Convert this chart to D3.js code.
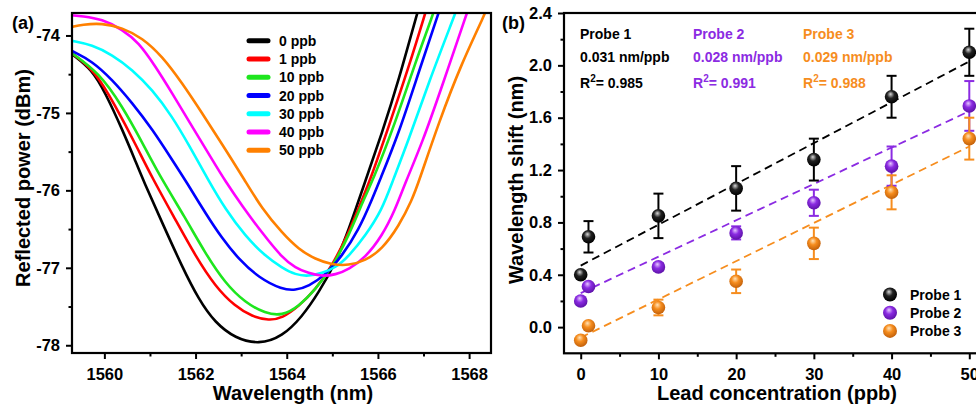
<!DOCTYPE html>
<html>
  <head>
    <meta charset="utf-8">
    <title>Reflection spectra and wavelength shift</title>
    <script src="https://d3js.org/d3.v7.min.js"></script>
    <style>
      body { margin: 0; background: #fff; }
      svg { font-family: "Liberation Sans", Arial, sans-serif; font-weight: bold; }
      .axis path, .axis line { stroke: #000; }
      .axis text { font-size: 16.5px; font-weight: bold; fill: #000; }
    </style>
  </head>
  <body>
    <svg id="svg" width="976" height="407"></svg>
    <script>
      // ---- panel (a) data: reflection spectra [wavelength nm, power dBm]
      var specLabels = ["0 ppb", "1 ppb", "10 ppb", "20 ppb", "30 ppb", "40 ppb", "50 ppb"];
      var specColors = ["#000000", "#ff0000", "#1ee61e", "#0000ff", "#00ffff", "#ff00ff", "#ff8000"];
      var spec0 = [[1559.29,-74.24],[1559.73,-74.44],[1560.02,-74.74],[1560.39,-75.21],[1560.68,-75.62],[1560.86,-75.88],[1561.27,-76.42],[1561.70,-76.98],[1562.07,-77.41],[1562.43,-77.71],[1562.87,-77.91],[1563.39,-77.99],[1563.90,-77.89],[1564.34,-77.63],[1564.70,-77.32],[1565.07,-76.94],[1565.36,-76.51],[1565.71,-75.90],[1566.09,-75.26],[1566.46,-74.57],[1566.86,-73.71],[1566.95,-73.55]];
      var spec1 = [[1559.29,-74.23],[1559.80,-74.46],[1560.24,-74.91],[1560.68,-75.40],[1561.05,-75.84],[1561.56,-76.38],[1562.00,-76.85],[1562.43,-77.24],[1562.87,-77.50],[1563.24,-77.63],[1563.61,-77.68],[1563.90,-77.65],[1564.26,-77.50],[1564.63,-77.28],[1564.99,-76.98],[1565.36,-76.55],[1565.65,-76.12],[1565.81,-75.90],[1566.24,-75.17],[1566.68,-74.40],[1567.04,-73.71],[1567.12,-73.55]];
      var spec10 = [[1559.29,-74.23],[1559.88,-74.48],[1560.39,-74.91],[1560.83,-75.38],[1561.19,-75.79],[1561.78,-76.36],[1562.21,-76.81],[1562.65,-77.20],[1563.09,-77.45],[1563.53,-77.59],[1563.90,-77.62],[1564.26,-77.50],[1564.63,-77.28],[1564.99,-77.00],[1565.36,-76.59],[1565.72,-76.07],[1565.87,-75.90],[1566.38,-75.13],[1566.82,-74.35],[1567.22,-73.71],[1567.30,-73.55]];
      var spec20 = [[1559.29,-74.20],[1559.73,-74.33],[1560.17,-74.57],[1560.61,-74.87],[1561.05,-75.21],[1561.48,-75.60],[1561.81,-75.90],[1562.21,-76.29],[1562.58,-76.62],[1562.95,-76.89],[1563.39,-77.13],[1563.90,-77.28],[1564.19,-77.29],[1564.48,-77.24],[1564.85,-77.09],[1565.21,-76.85],[1565.58,-76.51],[1565.87,-76.12],[1566.02,-75.90],[1566.46,-75.26],[1566.89,-74.48],[1567.33,-73.71],[1567.42,-73.55]];
      var spec30 = [[1559.29,-74.07],[1559.73,-74.12],[1560.17,-74.25],[1560.61,-74.44],[1561.05,-74.70],[1561.48,-75.04],[1561.85,-75.41],[1562.29,-75.88],[1562.65,-76.24],[1563.09,-76.59],[1563.53,-76.85],[1563.90,-77.00],[1564.19,-77.09],[1564.48,-77.11],[1564.77,-77.07],[1565.07,-77.00],[1565.36,-76.85],[1565.72,-76.59],[1566.09,-76.25],[1566.31,-75.90],[1566.68,-75.34],[1567.11,-74.61],[1567.70,-73.71],[1567.80,-73.55]];
      var spec40 = [[1559.29,-73.74],[1559.51,-73.75],[1559.95,-73.79],[1560.39,-73.92],[1560.75,-74.09],[1561.12,-74.40],[1561.48,-74.74],[1561.92,-75.17],[1562.36,-75.60],[1562.65,-75.88],[1563.02,-76.20],[1563.46,-76.55],[1563.90,-76.87],[1564.19,-77.00],[1564.48,-77.07],[1564.77,-77.11],[1565.07,-77.09],[1565.36,-77.02],[1565.72,-76.87],[1566.09,-76.59],[1566.38,-76.25],[1566.60,-75.90],[1566.97,-75.39],[1567.41,-74.65],[1567.95,-73.71],[1568.05,-73.55]];
      var spec50 = [[1559.29,-73.89],[1559.51,-73.86],[1559.95,-73.84],[1560.39,-73.90],[1560.83,-74.03],[1561.27,-74.27],[1561.70,-74.61],[1562.14,-75.00],[1562.58,-75.40],[1563.09,-75.88],[1563.46,-76.24],[1563.90,-76.55],[1564.26,-76.76],[1564.63,-76.89],[1564.99,-76.96],[1565.36,-76.97],[1565.72,-76.91],[1566.09,-76.76],[1566.46,-76.46],[1566.75,-76.12],[1566.89,-75.90],[1567.33,-75.13],[1567.84,-74.35],[1568.36,-73.71],[1568.45,-73.55]];
      var spectra = [spec0, spec1, spec10, spec20, spec30, spec40, spec50];
      var wlTicks = [1560, 1562, 1564, 1566, 1568];
      var wlMinor = [1561, 1563, 1565, 1567];
      var powTicks = [-78, -77, -76, -75, -74];
      var powMinor = [-77.5, -76.5, -75.5, -74.5];

      // ---- panel (b) data: wavelength shift vs lead concentration
      var conc = [0, 1, 10, 20, 30, 40, 50];
      var probe1 = [0.40, 0.69, 0.85, 1.06, 1.28, 1.76, 2.10];
      var probe1Err = [0.01, 0.12, 0.17, 0.17, 0.16, 0.16, 0.18];
      var probe2 = [0.20, 0.31, 0.46, 0.72, 0.95, 1.23, 1.69];
      var probe2Err = [0.01, 0.02, 0.03, 0.05, 0.10, 0.15, 0.19];
      var probe3 = [-0.10, 0.01, 0.15, 0.35, 0.64, 1.03, 1.44];
      var probe3Err = [0.01, 0.02, 0.06, 0.09, 0.12, 0.13, 0.16];
      var fit1 = [[0, 0.47], [50, 2.03]];
      var fit2 = [[0, 0.26], [50, 1.65]];
      var fit3 = [[0, -0.08], [50, 1.38]];
      var probeNames = ["Probe 1", "Probe 2", "Probe 3"];
      var probeColors = ["#000000", "#8b2be2", "#f68d1e"];
      var probeSens = ["0.031 nm/ppb", "0.028 nm/ppb", "0.029 nm/ppb"];
      var probeR2 = ["= 0.985", "= 0.991", "= 0.988"];
      var concTicks = [0, 10, 20, 30, 40, 50];
      var concMinor = [5, 15, 25, 35, 45];
      var shiftTicks = [0.0, 0.4, 0.8, 1.2, 1.6, 2.0, 2.4];
      var shiftMinor = [0.2, 0.6, 1.0, 1.4, 1.8, 2.2];

      var svg = d3.select("#svg");
      var defs = svg.append("defs");
      var plainInt = function(d) { return String(d); };

      // ================= panel (a)
      var ax = { left: 72, right: 491, top: 13, bottom: 353 };
      var xA = d3.scaleLinear().domain([1559.29, 1568.48]).range([ax.left, ax.right]);
      var yA = d3.scaleLinear().domain([-78.1, -73.71]).range([ax.bottom, ax.top]);

      defs.append("clipPath").attr("id", "clipA")
        .append("rect").attr("x", ax.left).attr("y", ax.top)
        .attr("width", ax.right - ax.left).attr("height", ax.bottom - ax.top);

      var lineA = d3.line()
        .x(function(d) { return xA(d[0]); })
        .y(function(d) { return yA(d[1]); })
        .curve(d3.curveBasis);

      var gA = svg.append("g");
      gA.append("g").attr("clip-path", "url(#clipA)")
        .selectAll("path")
          .data(spectra)
        .enter().append("path")
          .attr("d", lineA)
          .attr("fill", "none")
          .attr("stroke", function(d, i) { return specColors[i]; })
          .attr("stroke-width", 2.6);

      drawAxes(gA, xA, yA, ax, wlTicks, wlMinor, powTicks, powMinor, plainInt, plainInt);

      // legend (a)
      var legA = gA.append("g").selectAll("g")
          .data(specLabels)
        .enter().append("g")
          .attr("transform", function(d, i) { return "translate(0," + (40.7 + i * 18.27) + ")"; });
      legA.append("line")
        .attr("x1", 249).attr("x2", 268)
        .attr("stroke", function(d, i) { return specColors[i]; })
        .attr("stroke-width", 5).attr("stroke-linecap", "round");
      legA.append("text")
        .attr("x", 279).attr("y", 5)
        .style("font-size", "14px")
        .text(function(d) { return d; });

      gA.append("text").attr("x", 293).attr("y", 400)
        .attr("text-anchor", "middle").style("font-size", "20px")
        .text("Wavelength (nm)");
      gA.append("text").attr("transform", "translate(30,178) rotate(-90)")
        .attr("text-anchor", "middle").style("font-size", "20px")
        .text("Reflected power (dBm)");
      gA.append("text").attr("x", 12).attr("y", 29).style("font-size", "18px").text("(a)");

      // ================= panel (b)
      var bx = { left: 564, right: 986, top: 13, bottom: 353.3 };
      var xB = d3.scaleLinear().domain([-2.15, 52.15]).range([bx.left, bx.right]);
      var yB = d3.scaleLinear().domain([-0.2, 2.4]).range([bx.bottom, bx.top]);
      var gB = svg.append("g");

      // sphere gradients
      var shades = [["#d8d8d8", "#222", "#000"], ["#e6c8ff", "#8b2be2", "#5d12a8"], ["#ffe2b8", "#f68d1e", "#c2600a"]];
      shades.forEach(function(s, i) {
        var g = defs.append("radialGradient").attr("id", "ball" + i)
          .attr("cx", "45%").attr("cy", "40%").attr("r", "60%").attr("fx", "42%").attr("fy", "30%");
        g.append("stop").attr("offset", "0%").attr("stop-color", s[0]);
        g.append("stop").attr("offset", "45%").attr("stop-color", s[1]);
        g.append("stop").attr("offset", "100%").attr("stop-color", s[2]);
      });

      var lineB = d3.line()
        .x(function(d) { return xB(d[0]); })
        .y(function(d) { return yB(d[1]); });
      var fits = [fit1, fit2, fit3];
      var probes = [probe1, probe2, probe3];
      var errs = [probe1Err, probe2Err, probe3Err];

      gB.selectAll(".fit")
          .data(fits)
        .enter().append("path")
          .attr("d", lineB)
          .attr("fill", "none")
          .attr("stroke", function(d, i) { return probeColors[i]; })
          .attr("stroke-width", 1.8)
          .attr("stroke-dasharray", "8,5");

      probes.forEach(function(vals, p) {
        var g = gB.append("g");
        var pts = conc.map(function(c, i) { return { x: c, y: vals[i], e: errs[p][i] }; });
        var eb = g.selectAll(".eb").data(pts).enter().append("g")
          .attr("stroke", probeColors[p]).attr("stroke-width", 2);
        eb.append("line")
          .attr("x1", function(d) { return xB(d.x); }).attr("x2", function(d) { return xB(d.x); })
          .attr("y1", function(d) { return yB(d.y - d.e); }).attr("y2", function(d) { return yB(d.y + d.e); });
        eb.append("line")
          .attr("x1", function(d) { return xB(d.x) - 5; }).attr("x2", function(d) { return xB(d.x) + 5; })
          .attr("y1", function(d) { return yB(d.y + d.e); }).attr("y2", function(d) { return yB(d.y + d.e); });
        eb.append("line")
          .attr("x1", function(d) { return xB(d.x) - 5; }).attr("x2", function(d) { return xB(d.x) + 5; })
          .attr("y1", function(d) { return yB(d.y - d.e); }).attr("y2", function(d) { return yB(d.y - d.e); });
        g.selectAll("circle").data(pts).enter().append("circle")
          .attr("cx", function(d) { return xB(d.x); })
          .attr("cy", function(d) { return yB(d.y); })
          .attr("r", 6.8)
          .attr("fill", "url(#ball" + p + ")");
      });

      drawAxes(gB, xB, yB, bx, concTicks, concMinor, shiftTicks, shiftMinor, plainInt, d3.format(".1f"));

      // annotations
      var annX = [580, 693, 803];
      probeNames.forEach(function(n, i) {
        var t = gB.append("g").attr("fill", probeColors[i]).style("font-size", "14px");
        t.append("text").attr("x", annX[i]).attr("y", 38.5).text(n);
        t.append("text").attr("x", annX[i]).attr("y", 62).text(probeSens[i]);
        var r = t.append("text").attr("x", annX[i]).attr("y", 87.5);
        r.append("tspan").text("R");
        r.append("tspan").attr("dy", -6).style("font-size", "10px").text("2");
        r.append("tspan").attr("dy", 6).text(probeR2[i]);
      });

      // legend (b)
      var legB = gB.append("g").selectAll("g")
          .data(probeNames)
        .enter().append("g")
          .attr("transform", function(d, i) { return "translate(890," + (294.5 + i * 18.2) + ")"; });
      legB.append("circle").attr("r", 7)
        .attr("fill", function(d, i) { return "url(#ball" + i + ")"; });
      legB.append("text").attr("x", 20).attr("y", 5)
        .style("font-size", "14px").text(function(d) { return d; });

      gB.append("text").attr("x", 777).attr("y", 400)
        .attr("text-anchor", "middle").style("font-size", "20px")
        .text("Lead concentration (ppb)");
      gB.append("text").attr("transform", "translate(523,180) rotate(-90)")
        .attr("text-anchor", "middle").style("font-size", "20px")
        .text("Wavelength shift (nm)");
      gB.append("text").attr("x", 502).attr("y", 29).style("font-size", "18px").text("(b)");

      // frame, major and minor ticks
      function drawAxes(g, x, y, box, xt, xm, yt, ym, xf, yf) {
        g.append("g").attr("class", "axis")
          .attr("transform", "translate(0," + box.bottom + ")")
          .call(d3.axisBottom(x).tickValues(xt).tickFormat(xf).tickSize(6).tickSizeOuter(0).tickPadding(9))
          .call(function(s) { s.select(".domain").remove(); });
        g.append("g").attr("class", "axis")
          .attr("transform", "translate(0," + box.bottom + ")")
          .call(d3.axisBottom(x).tickValues(xm).tickFormat("").tickSize(3.5).tickSizeOuter(0))
          .call(function(s) { s.select(".domain").remove(); });
        g.append("g").attr("class", "axis")
          .attr("transform", "translate(" + box.left + ",0)")
          .call(d3.axisLeft(y).tickValues(yt).tickFormat(yf).tickSize(6).tickSizeOuter(0).tickPadding(6))
          .call(function(s) { s.select(".domain").remove(); });
        g.append("g").attr("class", "axis")
          .attr("transform", "translate(" + box.left + ",0)")
          .call(d3.axisLeft(y).tickValues(ym).tickFormat("").tickSize(3.5).tickSizeOuter(0))
          .call(function(s) { s.select(".domain").remove(); });
        g.selectAll(".axis line").attr("stroke-width", 2);
        g.append("rect")
          .attr("x", box.left).attr("y", box.top)
          .attr("width", box.right - box.left).attr("height", box.bottom - box.top)
          .attr("fill", "none").attr("stroke", "#000").attr("stroke-width", 2.2);
      }
    </script>
  </body>
</html>
